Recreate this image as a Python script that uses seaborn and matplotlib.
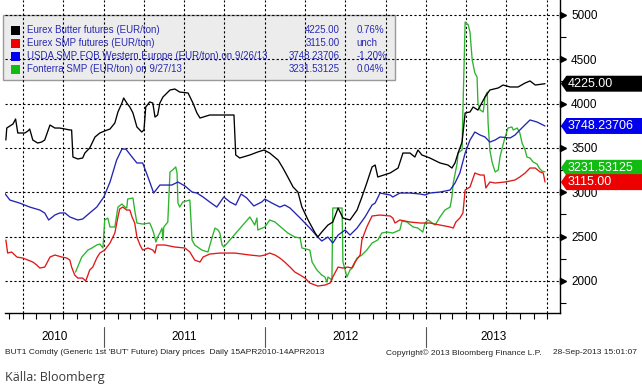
import matplotlib
matplotlib.use("Agg")
import matplotlib.pyplot as plt
import matplotlib.dates as mdates
import matplotlib.transforms as mtrans
from matplotlib.patches import Rectangle, Polygon
from matplotlib.ticker import MultipleLocator, NullFormatter
import pandas as pd
import seaborn as sns

# ---------------- data ----------------
butter_dates = ["2010-05-24","2010-05-26","2010-06-02","2010-06-09","2010-06-15","2010-06-20","2010-07-06","2010-07-13",
    "2010-07-17","2010-07-24","2010-08-04","2010-08-13","2010-08-20","2010-09-01","2010-09-12","2010-09-23","2010-10-05",
    "2010-10-16","2010-10-20","2010-10-23","2010-11-03","2010-11-14","2010-11-19","2010-11-30","2010-12-12","2010-12-23",
    "2011-01-03","2011-01-15","2011-01-26","2011-02-02","2011-02-11","2011-02-15","2011-02-22","2011-03-01","2011-03-08",
    "2011-03-17","2011-03-28","2011-04-02","2011-04-06","2011-04-15","2011-04-22","2011-04-27","2011-05-03","2011-05-08",
    "2011-05-15","2011-05-31","2011-06-11","2011-06-22","2011-07-11","2011-07-22","2011-07-31","2011-08-07","2011-08-29",
    "2011-10-02","2011-10-23","2011-10-27","2011-11-05","2011-11-28","2011-12-16","2011-12-30","2012-01-12","2012-01-31",
    "2012-02-11","2012-02-22","2012-03-05","2012-03-16","2012-03-25","2012-04-08","2012-04-24","2012-04-30","2012-05-09",
    "2012-05-23","2012-06-03","2012-06-15","2012-06-26","2012-07-12","2012-07-28","2012-08-08","2012-08-19","2012-08-31",
    "2012-09-07","2012-09-13","2012-10-11","2012-10-29","2012-11-09","2012-11-25","2012-12-06","2012-12-13","2012-12-22",
    "2013-01-09","2013-02-01","2013-02-19","2013-02-28","2013-03-07","2013-03-14","2013-03-23","2013-03-30","2013-04-10",
    "2013-04-17","2013-04-28","2013-05-14","2013-05-25","2013-06-13","2013-06-24","2013-07-10","2013-07-28","2013-08-13",
    "2013-08-24","2013-09-05","2013-09-27"]
butter_vals = [3590,3725,3748,3770,3827,3669,3669,3692,3714,3590,3556,3567,3590,3759,3725,3725,3714,3703,3703,3398,
    3376,3387,3443,3500,3624,3669,3692,3714,3782,3906,4007,4064,4007,3962,3895,3737,3680,3703,3962,4019,4007,3849,
    3872,4007,4075,4154,4165,4131,4120,4007,3895,3838,3872,3872,3872,3421,3387,3421,3455,3477,3443,3364,3274,3173,
    3060,3003,2834,2688,2541,2496,2552,2631,2665,2823,2710,2688,2800,2947,3105,3286,3308,3173,3218,3274,3443,3443,
    3398,3477,3421,3387,3331,3308,3274,3331,3443,3567,3895,3906,3962,3928,4075,4154,4177,4210,4188,4188,4233,4256,
    4210,4225]

smp_dates = ["2010-05-24","2010-05-28","2010-06-06","2010-06-18","2010-07-01","2010-07-13","2010-07-24","2010-08-02",
    "2010-08-09","2010-08-20","2010-08-25","2010-09-01","2010-09-12","2010-09-28","2010-10-09","2010-10-16","2010-10-20",
    "2010-10-27","2010-11-03","2010-11-14","2010-11-21","2010-11-26","2010-11-30","2010-12-07","2010-12-16","2010-12-23",
    "2011-01-03","2011-01-15","2011-01-26","2011-02-02","2011-02-06","2011-02-13","2011-02-22","2011-03-01","2011-03-06",
    "2011-03-12","2011-03-17","2011-03-24","2011-03-30","2011-04-11","2011-04-22","2011-04-27","2011-05-01","2011-05-19",
    "2011-06-11","2011-07-04","2011-07-15","2011-07-26","2011-08-07","2011-08-14","2011-08-29","2011-09-21","2011-10-25",
    "2011-11-28","2011-12-21","2012-01-01","2012-01-12","2012-01-24","2012-02-04","2012-02-15","2012-02-27","2012-03-09",
    "2012-03-21","2012-04-01","2012-04-12","2012-04-30","2012-05-16","2012-05-28","2012-06-03","2012-06-15","2012-06-26",
    "2012-07-07","2012-07-16","2012-07-23","2012-08-04","2012-08-08","2012-08-19","2012-08-31","2012-09-18","2012-10-11",
    "2012-10-17","2012-10-22","2012-11-02","2012-11-25","2012-12-18","2013-01-09","2013-02-01","2013-02-24","2013-03-03",
    "2013-03-09","2013-03-18","2013-03-25","2013-03-30","2013-04-10","2013-04-21","2013-05-03","2013-05-12","2013-05-16",
    "2013-05-25","2013-06-06","2013-06-28","2013-07-21","2013-08-01","2013-08-13","2013-08-24","2013-09-05","2013-09-16",
    "2013-09-23","2013-09-27"]
smp_vals = [2462,2315,2327,2270,2259,2236,2214,2180,2146,2157,2203,2270,2293,2270,2259,2236,2157,2067,2033,2033,2000,
    2067,2124,2157,2259,2315,2349,2428,2541,2722,2812,2834,2800,2800,2722,2654,2496,2406,2349,2372,2349,2315,2406,
    2406,2383,2372,2327,2236,2214,2270,2304,2315,2315,2293,2281,2293,2315,2293,2259,2214,2157,2101,2067,2033,1977,
    1943,1954,1977,2045,2157,2146,2157,2146,2214,2293,2462,2609,2733,2744,2733,2710,2654,2688,2665,2654,2654,2631,
    2609,2597,2665,2710,2767,3026,3060,3218,3195,3195,3049,3116,3105,3116,3139,3173,3218,3274,3274,3229,3218,3116]

usda_dates = ["2010-05-21","2010-06-02","2010-06-24","2010-07-17","2010-08-09","2010-08-20","2010-08-29","2010-09-12",
    "2010-09-23","2010-10-05","2010-10-16","2010-11-03","2010-11-14","2010-11-30","2010-12-16","2011-01-01","2011-01-15",
    "2011-01-30","2011-02-11","2011-02-20","2011-03-06","2011-03-17","2011-03-30","2011-04-11","2011-04-24","2011-05-08",
    "2011-06-04","2011-06-18","2011-07-04","2011-07-20","2011-07-31","2011-08-14","2011-08-29","2011-09-14","2011-09-30",
    "2011-10-14","2011-10-27","2011-11-08","2011-11-21","2011-12-07","2011-12-25","2012-01-01","2012-01-17","2012-02-04",
    "2012-02-15","2012-02-27","2012-03-21","2012-04-12","2012-04-30","2012-05-09","2012-05-23","2012-06-03","2012-06-15",
    "2012-07-01","2012-07-12","2012-07-28","2012-08-15","2012-08-31","2012-09-07","2012-09-18","2012-10-11","2012-10-17",
    "2012-11-02","2012-11-25","2012-12-18","2012-12-29","2013-01-09","2013-02-01","2013-02-24","2013-03-07","2013-03-18",
    "2013-03-30","2013-04-10","2013-04-21","2013-05-03","2013-05-14","2013-05-25","2013-06-06","2013-06-17","2013-07-10",
    "2013-07-21","2013-08-01","2013-08-24","2013-09-09","2013-09-27"]
usda_vals = [2992,2913,2879,2834,2800,2767,2688,2744,2767,2767,2722,2688,2699,2767,2834,2947,3116,3364,3488,3488,3398,
    3331,3331,3173,2992,3082,3082,3116,3071,3003,2992,2947,2891,2834,2947,2891,2857,2981,2936,2846,2891,2924,2879,
    2834,2857,2823,2710,2597,2496,2451,2496,2428,2518,2575,2518,2597,2722,2857,2879,2992,2970,2947,2992,2992,2981,
    2970,2992,3003,3026,3105,3218,3443,3590,3680,3646,3624,3567,3590,3624,3613,3646,3703,3816,3793,3748]

fonterra_dates = ["2010-10-29","2010-11-12","2010-11-26","2010-12-05","2010-12-16","2010-12-23","2010-12-30","2011-01-03",
    "2011-01-10","2011-01-15","2011-01-26","2011-02-02","2011-02-11","2011-02-18","2011-02-22","2011-02-24","2011-03-08",
    "2011-03-12","2011-03-17","2011-03-30","2011-04-15","2011-04-20","2011-04-24","2011-04-29","2011-05-03","2011-05-08",
    "2011-05-13","2011-05-15","2011-05-17","2011-05-26","2011-05-31","2011-06-06","2011-06-13","2011-06-16","2011-06-18",
    "2011-06-22","2011-06-29","2011-07-15","2011-07-20","2011-07-26","2011-08-11","2011-08-25","2011-09-03","2011-09-10",
    "2011-09-17","2011-09-21","2011-09-26","2011-09-30","2011-11-28","2011-12-09","2011-12-14","2011-12-16","2012-01-01",
    "2012-01-12","2012-01-24","2012-02-09","2012-02-22","2012-03-09","2012-03-21","2012-03-25","2012-04-12","2012-04-17",
    "2012-04-28","2012-05-09","2012-05-16","2012-05-21","2012-05-23","2012-06-01","2012-06-03","2012-06-24","2012-06-26",
    "2012-07-01","2012-07-05","2012-07-12","2012-07-19","2012-07-28","2012-08-08","2012-08-19","2012-08-31","2012-09-13",
    "2012-09-22","2012-10-04","2012-10-17","2012-11-02","2012-11-07","2012-11-18","2012-12-02","2012-12-13","2012-12-24",
    "2012-12-29","2013-01-05","2013-01-21","2013-02-01","2013-02-12","2013-02-24","2013-02-28","2013-03-03","2013-03-12",
    "2013-03-14","2013-03-23","2013-03-25","2013-03-30","2013-04-06","2013-04-10","2013-04-15","2013-04-21","2013-04-26",
    "2013-04-28","2013-05-03","2013-05-10","2013-05-14","2013-05-19","2013-05-21","2013-05-25","2013-05-30","2013-06-06",
    "2013-06-13","2013-06-17","2013-06-22","2013-06-28","2013-07-05","2013-07-14","2013-07-17","2013-07-26","2013-08-01",
    "2013-08-06","2013-08-13","2013-08-17","2013-08-24","2013-08-31","2013-09-09","2013-09-14","2013-09-20","2013-09-27"]
fonterra_vals = [2101,2270,2349,2372,2406,2417,2372,2688,2710,2609,2609,2834,2868,2834,2823,2924,2936,2800,2654,2642,
    2654,2597,2541,2440,2496,2541,2597,2462,2609,2665,3229,3252,3286,3218,2879,2834,2891,2913,2462,2406,2349,2327,
    2485,2597,2575,2541,2406,2383,2722,2631,2710,2575,2609,2688,2665,2597,2541,2496,2485,2372,2349,2214,2124,2067,
    2045,1988,2045,2011,2823,2823,2214,2124,2045,2124,2157,2259,2293,2349,2428,2462,2541,2552,2541,2575,2676,2665,
    2609,2597,2552,2654,2688,2631,2722,2800,2834,2947,3105,3331,3443,3477,3928,4921,4887,4808,4492,4346,4301,4007,
    3928,3906,4075,4131,3782,3477,3342,3229,3252,3398,3500,3613,3725,3737,3703,3725,3669,3556,3477,3398,3387,3342,
    3319,3274,3240,3231]

series_names = ["Eurex Butter futures (EUR/ton)", "Eurex SMP futures (EUR/ton)",
                "USDA SMP FOB Western Europe (EUR/ton) on 9/26/13", "Fonterra SMP (EUR/ton) on 9/27/13"]
series_last = ["4225.00", "3115.00", "3748.23706", "3231.53125"]
series_change = ["0.76%", "unch", "-1.20%", "0.04%"]
tag_values = [4225.00, 3115.00, 3748.23706, 3231.53125]
y_ticks = [2000, 2500, 3000, 3500, 4000, 4500, 5000]
year_labels = ["2010", "2011", "2012", "2013"]
footer_left = "BUT1 Comdty (Generic 1st 'BUT' Future) Diary prices  Daily 15APR2010-14APR2013"
footer_mid = "Copyright\u00a9 2013 Bloomberg Finance L.P."
footer_right = "28-Sep-2013 15:01:07"
source_text = "Källa: Bloomberg"

line_colors = ["#000000", "#e01818", "#2424b4", "#2cb42c"]
box_colors = ["#000000", "#ee0000", "#0000ee", "#11bb11"]
legend_text_color = "#2a2ab4"

# ---------------- build frame ----------------
frames = []
for name, d, v in zip(series_names,
                      [butter_dates, smp_dates, usda_dates, fonterra_dates],
                      [butter_vals, smp_vals, usda_vals, fonterra_vals]):
    frames.append(pd.DataFrame({"date": pd.to_datetime(d), "value": v, "series": name}))
df = pd.concat(frames, ignore_index=True)

sns.set_style("white")
plt.rcParams["font.family"] = ["Liberation Sans", "DejaVu Sans"]

fig = plt.figure(figsize=(6.42, 3.90), dpi=100)
ax = fig.add_axes([5 / 642, 1 - 313 / 390, 555 / 642, 313 / 390])

draw_order = [series_names[3], series_names[2], series_names[1], series_names[0]]
palette = dict(zip(series_names, line_colors))
sns.lineplot(data=df, x="date", y="value", hue="series", hue_order=draw_order, palette=palette,
             estimator=None, sort=False, legend=False, linewidth=0.95, ax=ax, zorder=3)

ax.set_xlim(pd.Timestamp("2010-05-22"), pd.Timestamp("2013-10-31"))
ax.set_ylim(1639, 5169)
ax.set_xlabel("")
ax.set_ylabel("")

# grid
ax.set_axisbelow(True)
ax.xaxis.set_major_locator(mdates.MonthLocator(bymonth=[1, 4, 7, 10]))
ax.xaxis.set_minor_locator(mdates.MonthLocator())
ax.xaxis.set_major_formatter(NullFormatter())
ax.set_yticks(y_ticks)
ax.yaxis.set_minor_locator(MultipleLocator(250))
ax.grid(True, which="major", color="black", linestyle=(0, (2, 2)), linewidth=0.8)

for s in ["left", "top"]:
    ax.spines[s].set_visible(False)
for s in ["right", "bottom"]:
    ax.spines[s].set_color("black")
    ax.spines[s].set_linewidth(1.0)

ax.tick_params(axis="x", which="both", direction="out", length=4, width=0.8, color="black",
               bottom=True, labelbottom=False)
ax.yaxis.tick_right()
ax.tick_params(axis="y", which="major", length=0, pad=8, labelsize=8.5, labelcolor="black",
               right=True, left=False, labelright=True, labelleft=False)
ax.tick_params(axis="y", which="minor", length=4, width=0.8, direction="out", color="black", right=True, left=False)

# triangles for major y ticks
tr_ya = mtrans.blended_transform_factory(ax.transAxes, ax.transData)
ax.plot([1.006] * len(y_ticks), y_ticks, linestyle="none", marker=">", markersize=5, color="black",
        transform=tr_ya, clip_on=False, zorder=5)

# year labels and separators
tr_xa = mtrans.blended_transform_factory(ax.transData, ax.transAxes)
x0, x1 = ax.get_xlim()
bounds = [x0] + [mdates.date2num(pd.Timestamp(f"{y}-01-01")) for y in (2011, 2012, 2013)] + [x1]
for i, lab in enumerate(year_labels):
    ax.text((bounds[i] + bounds[i + 1]) / 2, -0.077, lab, transform=tr_xa, ha="center", va="center",
            fontsize=8.5, color="black")
for b in bounds[1:-1]:
    ax.plot([b, b], [-0.045, -0.108], transform=tr_xa, color="#555555", linewidth=0.8, clip_on=False)

# legend box
ax.add_patch(Rectangle((-0.0036, 0.744), 0.7063, 0.208, transform=ax.transAxes, facecolor="#ececec",
                       edgecolor="#9a9a9a", linewidth=1.0, zorder=0.3, clip_on=False))
row_y = [0.904, 0.862, 0.820, 0.779]
for i in range(4):
    ax.add_patch(Rectangle((0.0108, row_y[i] - 0.0145), 0.0162, 0.029, transform=ax.transAxes,
                           facecolor=box_colors[i], edgecolor="none", zorder=4))
    ax.text(0.0396, row_y[i], series_names[i], transform=ax.transAxes, ha="left", va="center",
            fontsize=7, color=legend_text_color, zorder=4)
    ax.text(0.603, row_y[i], series_last[i], transform=ax.transAxes, ha="right", va="center",
            fontsize=7, color=legend_text_color, zorder=4)
    ax.text(0.634, row_y[i], series_change[i], transform=ax.transAxes, ha="left", va="center",
            fontsize=7, color=legend_text_color, zorder=4)

# value tags on the right (drawn in order so red ends on top); green label nudged up slightly
tag_order = [0, 2, 3, 1]
tag_nudge = [0, 0, 0, 45]
half_h = 90
for i in tag_order:
    v = tag_values[i] + tag_nudge[i]
    poly = Polygon([(1.0015, v), (1.0115, v + half_h), (1.16, v + half_h), (1.16, v - half_h), (1.0115, v - half_h)],
                   closed=True, transform=tr_ya, facecolor=box_colors[i], edgecolor="none",
                   clip_on=False, zorder=6)
    ax.add_patch(poly)
    ax.text(1.013, v, series_last[i], transform=tr_ya, ha="left", va="center", fontsize=9,
            color="white", zorder=7, clip_on=False)

# footer
fig.text(5 / 642, 1 - 353 / 390, footer_left, fontsize=6, ha="left", va="center", color="#222222")
fig.text(386 / 642, 1 - 353 / 390, footer_mid, fontsize=6, ha="left", va="center", color="#222222")
fig.text(637 / 642, 1 - 353 / 390, footer_right, fontsize=6, ha="right", va="center", color="#222222")
fig.text(5 / 642, 1 - 378 / 390, source_text, fontsize=9, ha="left", va="center", color="#3a3a3a",
         family=["Open Sans", "DejaVu Sans"])

fig.savefig("out.png", dpi=100)
